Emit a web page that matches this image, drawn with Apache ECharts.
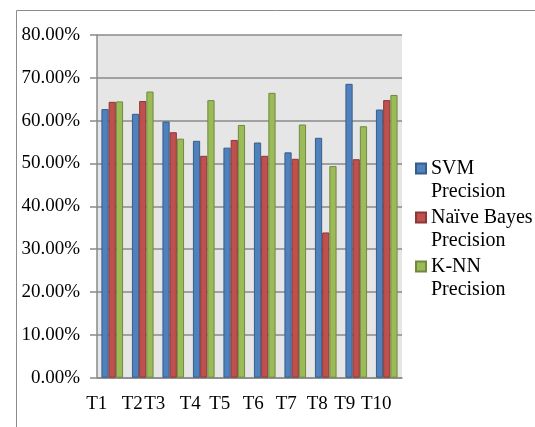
<!DOCTYPE html>
<html>
<head>
<meta charset="utf-8">
<script src="https://cdn.jsdelivr.net/npm/echarts@6/dist/echarts.min.js"></script>
<style>
  html, body { margin: 0; padding: 0; background: #ffffff; }
  #chart { width: 535px; height: 427px; }
</style>
</head>
<body>
<div id="chart"></div>
<script>
// Categories (test sets) and precision per classifier, in percent
var categories = ['T1', 'T2', 'T3', 'T4', 'T5', 'T6', 'T7', 'T8', 'T9', 'T10'];
var svmPrecision = [62.7, 61.6, 59.8, 55.3, 53.7, 54.9, 52.6, 56.0, 68.6, 62.6];
var bayesPrecision = [64.4, 64.6, 57.3, 51.8, 55.5, 51.8, 51.1, 33.9, 51.0, 64.8];
var knnPrecision = [64.5, 66.8, 55.8, 64.8, 59.0, 66.5, 59.1, 49.4, 58.7, 66.0];
var seriesNames = ['SVM Precision', 'Naïve Bayes Precision', 'K-NN Precision'];
var yTicks = { min: 0, max: 80, step: 10 };

// Horizontal nudge (px, leftwards) of each category label
var labelShift = [15.5, 10.5, 18.5, 13.5, 14.5, 11.5, 9, 8.5, 11.5, 10.5];

var FONT = '"Liberation Serif", "Times New Roman", serif';
var GRID_GRAY = '#8a8a8a';

var rich = {};
labelShift.forEach(function (s, i) {
  rich['s' + i] = {
    fontFamily: FONT, fontSize: 19, color: '#000',
    padding: [0, Math.round(s * 2), 0, 0]
  };
});

var palette = [
  { fill: '#4f81bd', edge: '#385d8a' },
  { fill: '#c0504d', edge: '#8c3836' },
  { fill: '#9bbb59', edge: '#71893f' }
];
var seriesData = [svmPrecision, bayesPrecision, knnPrecision];

var chart = echarts.init(document.getElementById('chart'), null, { renderer: 'canvas' });
chart.setOption({
  animation: false,
  backgroundColor: '#ffffff',
  graphic: [{
    type: 'rect',
    shape: { x: 16.5, y: 10.5, width: 700, height: 700 },
    style: { fill: 'none', stroke: '#8c8c8c', lineWidth: 1 },
    silent: true,
    z: -1
  }],
  grid: {
    left: 97, top: 35, width: 305, height: 342.7,
    show: true, backgroundColor: '#e6e6e6', borderWidth: 0
  },
  legend: {
    orient: 'vertical',
    left: 415, top: 134,
    padding: 0,
    itemGap: -20,
    itemWidth: 10, itemHeight: 10,
    icon: 'rect',
    data: seriesNames,
    // blank leading line keeps the swatch level with the first text line
    formatter: function (name) {
      return '\n' + name.replace(/ Precision$/, '\nPrecision');
    },
    textStyle: {
      fontFamily: FONT, fontSize: 20, color: '#000',
      lineHeight: 23
    }
  },
  xAxis: {
    type: 'category',
    data: categories,
    axisLine: { show: true, lineStyle: { color: GRID_GRAY, width: 1.5 } },
    axisTick: { show: false },
    axisLabel: {
      margin: 17,
      interval: 0,
      formatter: function (v, i) { return '{s' + i + '|' + v + '}'; },
      rich: rich
    },
    splitLine: { show: false }
  },
  yAxis: {
    type: 'value',
    min: yTicks.min, max: yTicks.max, interval: yTicks.step,
    axisLine: { show: true, lineStyle: { color: GRID_GRAY, width: 1.5 } },
    axisTick: { show: true, inside: false, length: 7, lineStyle: { color: GRID_GRAY, width: 1.5 } },
    axisLabel: {
      margin: 17,
      fontFamily: FONT, fontSize: 19, color: '#000',
      formatter: function (v) { return v.toFixed(2) + '%'; }
    },
    splitLine: { show: true, lineStyle: { color: GRID_GRAY, width: 1.5 } }
  },
  series: seriesNames.map(function (name, k) {
    return {
      name: name,
      type: 'bar',
      data: seriesData[k],
      barGap: '0%',
      barCategoryGap: '29%',
      itemStyle: { color: palette[k].fill, borderColor: palette[k].edge, borderWidth: 1 }
    };
  })
});
</script>
</body>
</html>
